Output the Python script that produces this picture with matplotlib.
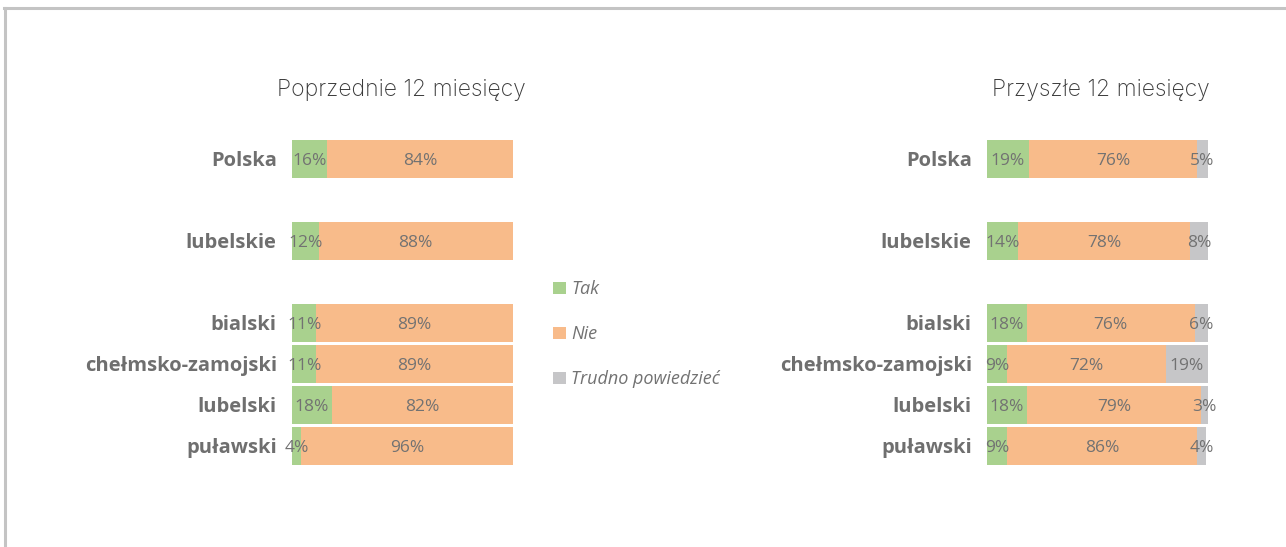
import numpy as np
import matplotlib
matplotlib.use("Agg")
import matplotlib.pyplot as plt
from matplotlib.lines import Line2D

# data
categories = ["Polska", "lubelskie", "bialski", "chełmsko-zamojski", "lubelski", "puławski"]
positions = [0, 2, 4, 5, 6, 7]

prev_tak = [16, 12, 11, 11, 18, 4]
prev_nie = [84, 88, 89, 89, 82, 96]

next_tak = [19, 14, 18, 9, 18, 9]
next_nie = [76, 78, 76, 72, 79, 86]
next_trudno = [5, 8, 6, 19, 3, 4]

series_names = ["Tak", "Nie", "Trudno powiedzieć"]
colors = ["#A9D18E", "#F8BB8A", "#C6C6C8"]

W, H = 1286, 547
fig = plt.figure(figsize=(W / 100, H / 100), dpi=100)
plt.rcParams['font.family'] = ['Open Sans', 'DejaVu Sans']

label_color = "#6f6f6f"
value_color = "#727272"


def draw_panel(rect, series, title, title_x):
    ax = fig.add_axes(rect)
    left = np.zeros(len(categories))
    containers = []
    for vals, col in zip(series, colors):
        vals = np.array(vals, dtype=float)
        bc = ax.barh(positions, vals, left=left, height=0.93, color=col, linewidth=0)
        containers.append(bc)
        for p, l, v in zip(positions, left, vals):
            ax.text(l + v / 2, p + 0.05, f"{int(v)}%", ha="center", va="center",
                    fontsize=12.5, color=value_color)
        left = left + vals
    ax.set_xlim(0, 100)
    ax.set_ylim(8, -1)
    ax.set_yticks(positions)
    ax.set_yticklabels(categories, fontsize=14.5, fontweight="bold", color=label_color)
    ax.tick_params(axis="y", length=0, pad=11)
    ax.set_xticks([])
    for s in ax.spines.values():
        s.set_visible(False)
    fig.text(title_x / W, 1 - 90 / H, title, ha="center", va="center",
             fontsize=16.5, color="#3a3a3a", family=["Inter", "DejaVu Sans"], fontweight="light")
    return containers


bottom = (H - 487) / H
height = 369 / H
handles = draw_panel([292 / W, bottom, 221 / W, height], [prev_tak, prev_nie],
                     "Poprzednie 12 miesięcy", 401)
handles = draw_panel([987 / W, bottom, 221 / W, height], [next_tak, next_nie, next_trudno],
                     "Przyszłe 12 miesięcy", 1101)

fig.legend(handles, series_names, loc="upper left", bbox_to_anchor=(537 / W, 1 - 264 / H),
           frameon=False, handlelength=0.7, handleheight=0.7, handletextpad=0.3,
           labelspacing=1.5, prop={"style": "italic", "size": 13},
           labelcolor=value_color)

# outer frame (top and left edges visible)
fig.add_artist(Line2D([4 / W, 1], [1 - 8 / H, 1 - 8 / H], color="#c4c4c4", lw=2.2,
                      transform=fig.transFigure))
fig.add_artist(Line2D([5 / W, 5 / W], [0, 1 - 8 / H], color="#c4c4c4", lw=2.2,
                      transform=fig.transFigure))

fig.savefig("out.png", dpi=100, facecolor="white")
